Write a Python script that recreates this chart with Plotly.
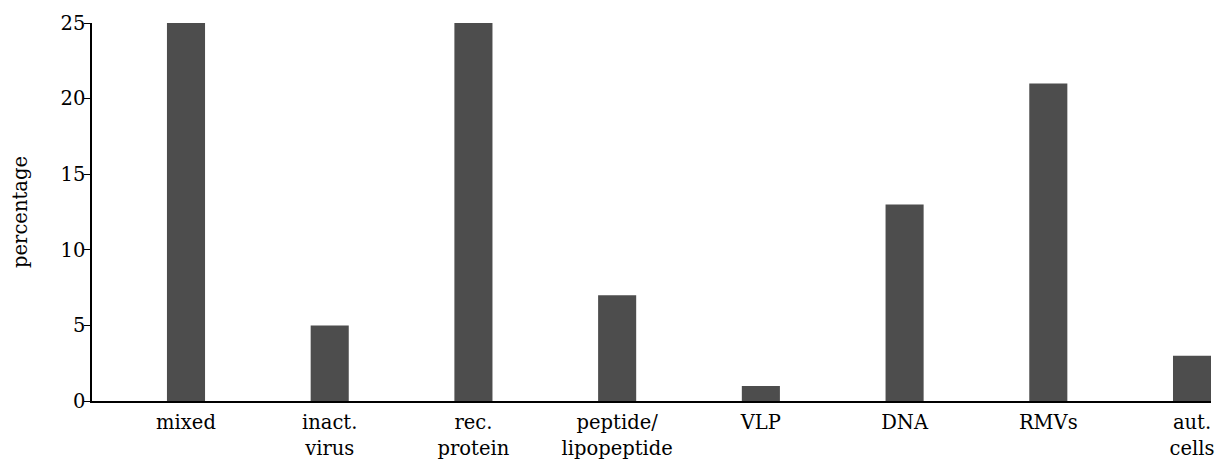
import plotly.graph_objects as go

categories = ["mixed", "inact.<br>virus", "rec.<br>protein", "peptide/<br>lipopeptide",
              "VLP", "DNA", "RMVs", "aut.<br>cells"]
percentages = [25, 5, 25, 7, 1, 13, 21, 3]
y_ticks = [0, 5, 10, 15, 20, 25]

BAR = "#4d4d4d"
INK = "#000000"
FONT = dict(family="DejaVu Serif", size=19.5, color=INK)

fig = go.Figure(
    go.Bar(
        x=categories, y=percentages,
        marker_color=BAR, marker_line_width=0,
        width=0.265,
    )
)
fig.update_layout(
    width=1216, height=459,
    paper_bgcolor="white", plot_bgcolor="white",
    font=FONT,
    margin=dict(l=92, r=5, t=23, b=58),
    showlegend=False,
)
fig.update_xaxes(
    range=[-0.654, 7.132], showline=True, linecolor=INK, linewidth=1.5,
    showgrid=False, ticks="", tickangle=0, tickfont=FONT, automargin=False,
    ticklabelstandoff=3,
)
fig.update_yaxes(
    range=[0, 25], tickvals=y_ticks, showline=True, linecolor=INK, linewidth=1.5,
    showgrid=False, zeroline=False, ticks="outside", ticklen=6, tickcolor=INK,
    tickfont=FONT, automargin=False, ticklabelstandoff=-5,
    title=dict(text="percentage", font=FONT, standoff=28),
)
# drop the default body margin so the figure sits at the page origin
fig.write_html(
    "out.html",
    config={"displayModeBar": False},
    post_script="document.body.style.margin='0';",
)
